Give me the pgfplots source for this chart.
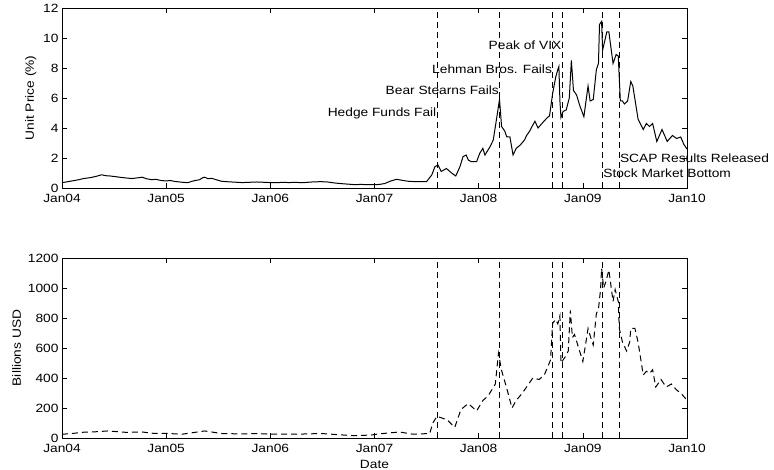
\documentclass[border=0pt]{standalone}
\usepackage{fontspec}
\setmainfont{Liberation Sans}[FakeStretch=1.15]
\usepackage{pgfplots}
\pgfplotsset{compat=1.18}
\usepackage{pgfplotstable}

\pgfplotstableread{
x y
2004.00 0.36
2004.04 0.40
2004.08 0.45
2004.12 0.50
2004.16 0.55
2004.20 0.62
2004.24 0.66
2004.28 0.70
2004.33 0.78
2004.38 0.88
2004.42 0.82
2004.46 0.80
2004.51 0.76
2004.55 0.72
2004.60 0.68
2004.64 0.65
2004.67 0.63
2004.72 0.67
2004.77 0.72
2004.81 0.62
2004.86 0.55
2004.90 0.58
2004.95 0.50
2005.00 0.47
2005.04 0.50
2005.08 0.44
2005.13 0.40
2005.17 0.37
2005.21 0.36
2005.25 0.45
2005.28 0.50
2005.32 0.55
2005.35 0.68
2005.37 0.72
2005.40 0.62
2005.44 0.64
2005.48 0.55
2005.53 0.45
2005.58 0.42
2005.63 0.40
2005.68 0.38
2005.73 0.36
2005.80 0.38
2005.87 0.40
2005.94 0.38
2006.00 0.36
2006.06 0.35
2006.12 0.38
2006.18 0.36
2006.24 0.38
2006.30 0.35
2006.36 0.38
2006.42 0.41
2006.49 0.42
2006.55 0.40
2006.60 0.35
2006.65 0.31
2006.70 0.28
2006.76 0.25
2006.81 0.22
2006.87 0.24
2006.93 0.22
2007.00 0.22
2007.05 0.24
2007.10 0.30
2007.15 0.45
2007.21 0.58
2007.26 0.52
2007.32 0.45
2007.40 0.42
2007.50 0.43
2007.55 0.87
2007.58 1.42
2007.61 1.53
2007.64 1.10
2007.69 1.30
2007.74 1.00
2007.78 0.80
2007.82 1.42
2007.85 2.09
2007.88 2.20
2007.90 1.87
2007.93 1.75
2007.98 1.75
2008.01 2.31
2008.04 2.64
2008.06 2.20
2008.11 2.76
2008.14 3.20
2008.17 4.53
2008.20 5.90
2008.22 4.10
2008.25 3.80
2008.27 3.40
2008.30 3.40
2008.33 2.20
2008.36 2.64
2008.40 2.87
2008.44 3.20
2008.46 3.50
2008.49 3.80
2008.52 4.20
2008.54 4.45
2008.57 4.00
2008.62 4.40
2008.66 4.70
2008.68 4.80
2008.71 6.30
2008.74 7.40
2008.76 7.90
2008.77 8.10
2008.78 5.80
2008.79 4.70
2008.81 5.10
2008.84 5.20
2008.87 6.00
2008.89 8.50
2008.91 6.50
2008.94 6.20
2008.97 5.50
2009.01 4.75
2009.05 6.80
2009.07 5.80
2009.10 5.90
2009.13 7.90
2009.15 8.30
2009.16 10.90
2009.18 11.10
2009.19 9.20
2009.23 10.40
2009.25 10.40
2009.29 8.30
2009.32 8.90
2009.34 8.80
2009.36 5.80
2009.38 5.80
2009.40 5.60
2009.43 5.80
2009.46 7.10
2009.48 6.80
2009.53 4.60
2009.58 3.90
2009.61 4.30
2009.64 4.10
2009.67 4.30
2009.71 3.10
2009.76 3.90
2009.81 3.10
2009.86 3.50
2009.90 3.30
2009.94 3.40
2009.97 2.90
2010.00 2.60
}\toptable

\pgfplotstableread{
x y
2004.00 25
2004.10 30
2004.19 38
2004.29 40
2004.44 47
2004.61 38
2004.77 40
2004.89 30
2005.02 30
2005.15 25
2005.25 35
2005.37 47
2005.53 30
2005.73 27
2005.86 30
2006.02 25
2006.24 25
2006.49 30
2006.65 22
2006.81 15
2006.97 20
2007.05 28
2007.24 40
2007.37 25
2007.53 30
2007.56 100
2007.60 145
2007.66 130
2007.70 120
2007.77 70
2007.83 190
2007.90 230
2007.98 180
2008.04 250
2008.09 280
2008.16 360
2008.19 565
2008.22 450
2008.27 330
2008.32 200
2008.36 250
2008.42 300
2008.52 400
2008.58 390
2008.63 420
2008.69 520
2008.71 765
2008.74 790
2008.76 760
2008.78 815
2008.79 500
2008.80 510
2008.83 540
2008.86 580
2008.88 850
2008.90 670
2008.92 690
2008.96 600
2009.00 510
2009.03 640
2009.05 730
2009.08 660
2009.10 620
2009.13 830
2009.15 860
2009.17 990
2009.18 1130
2009.20 1000
2009.22 1040
2009.25 1120
2009.29 910
2009.31 990
2009.34 910
2009.35 730
2009.38 640
2009.42 580
2009.45 640
2009.46 730
2009.50 730
2009.53 640
2009.58 420
2009.61 445
2009.64 430
2009.67 455
2009.70 340
2009.75 390
2009.80 340
2009.85 360
2009.90 320
2009.94 300
2009.99 260
}\bottable

\pgfplotsset{
  base/.style={
    scale only axis, width=625bp, height=180bp,
    xmin=2004, xmax=2010, clip=false,
    xtick={2004,2005,2006,2007,2008,2009,2010},
    xticklabels={Jan04,Jan05,Jan06,Jan07,Jan08,Jan09,Jan10},
    tick align=inside, major tick length=5bp,
    /pgf/number format/assume math mode=true,
    /pgf/number format/1000 sep={},
    tick label style={font=\fontsize{12}{14}\selectfont},
    label style={font=\fontsize{12}{14}\selectfont},
    xticklabel style={yshift=-3bp},
    axis line style={line width=0.6pt},
    every tick/.style={black, line width=0.5pt},
  },
  vline/.style={black, line width=0.6pt, dash pattern=on 6bp off 4bp},
}

\begin{document}
\begin{tikzpicture}[x=1bp,y=1bp]
\useasboundingbox (0,0) rectangle (774,470);
\begin{axis}[base, at={(62bp,282bp)}, anchor=south west,
  ymin=0, ymax=12, ytick={0,2,4,6,8,10,12},
  ylabel={Unit Price (\%)}]
\addplot[black, line width=1pt] table[x=x,y=y]{\toptable};
\addplot[vline] coordinates {(2007.60,0) (2007.60,12)};
\addplot[vline] coordinates {(2008.20,0) (2008.20,12)};
\addplot[vline] coordinates {(2008.71,0) (2008.71,12)};
\addplot[vline] coordinates {(2008.80,0) (2008.80,12)};
\addplot[vline] coordinates {(2009.19,0) (2009.19,12)};
\addplot[vline] coordinates {(2009.35,0) (2009.35,12)};
\begin{scope}[every node/.style={font=\fontsize{12}{14}\selectfont, inner sep=0.5bp}]
\node[anchor=east] at (axis cs:2007.60,5.0) {Hedge Funds Fail};
\node[anchor=east] at (axis cs:2008.20,6.5) {Bear Stearns Fails};
\node[anchor=east] at (axis cs:2008.71,7.9) {Lehman Bros. Fails};
\node[anchor=east] at (axis cs:2008.80,9.5) {Peak of VIX};
\node[anchor=west] at (axis cs:2009.35,2.0) {SCAP Results Released};
\node[anchor=west] at (axis cs:2009.19,1.0) {Stock Market Bottom};
\end{scope}
\end{axis}
\begin{axis}[base, at={(62bp,32bp)}, anchor=south west,
  ymin=0, ymax=1200, ytick={0,200,400,600,800,1000,1200},
  ylabel={Billions USD}, xlabel={Date}]
\addplot[black, line width=1pt, dash pattern=on 6bp off 4bp] table[x=x,y=y]{\bottable};
\addplot[vline] coordinates {(2007.60,0) (2007.60,1200)};
\addplot[vline] coordinates {(2008.20,0) (2008.20,1200)};
\addplot[vline] coordinates {(2008.71,0) (2008.71,1200)};
\addplot[vline] coordinates {(2008.80,0) (2008.80,1200)};
\addplot[vline] coordinates {(2009.19,0) (2009.19,1200)};
\addplot[vline] coordinates {(2009.35,0) (2009.35,1200)};
\end{axis}
\end{tikzpicture}
\end{document}
